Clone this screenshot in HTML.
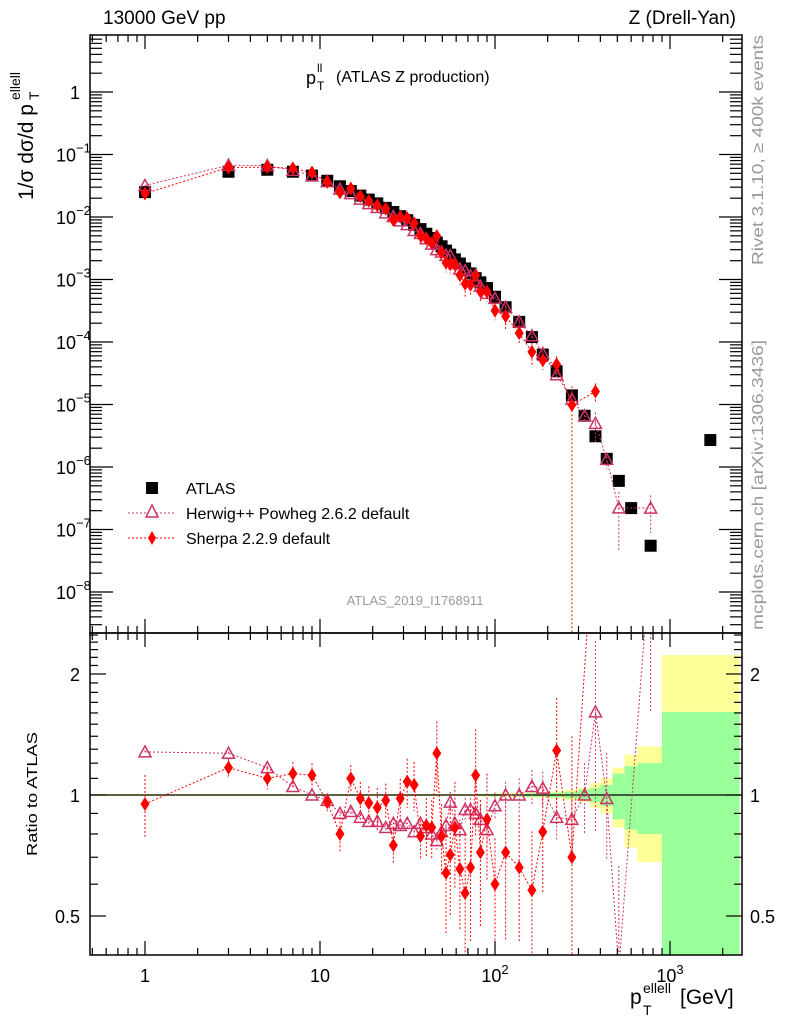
<!DOCTYPE html>
<html><head><meta charset="utf-8"><style>
body{margin:0;background:#fff;}
svg{display:block;font-family:"Liberation Sans",sans-serif;}
</style></head><body>
<svg id="chart" width="786" height="1024" viewBox="0 0 786 1024" xmlns="http://www.w3.org/2000/svg">
<rect width="786" height="1024" fill="#fff"/>
<g id="bands"></g>
<g id="grid"></g>
<g id="series"></g>
<rect x="90" y="35" width="652" height="598" fill="none" stroke="#000" stroke-width="1.5"/>
<rect x="90" y="633" width="652" height="322" fill="none" stroke="#000" stroke-width="1.5"/>
<g id="ticks"></g>
<text x="103" y="24" font-size="19">13000 GeV pp</text>
<text x="736" y="24" font-size="19" text-anchor="end">Z (Drell-Yan)</text>
<g>
<text x="306" y="84" font-size="18">p</text>
<text x="317" y="72" font-size="12">ll</text>
<text x="317" y="90" font-size="12">T</text>
<text x="336" y="82" font-size="16">(ATLAS Z production)</text>
</g>
<text transform="translate(763,265) rotate(-90)" font-size="16" textLength="230" lengthAdjust="spacingAndGlyphs" fill="#999">Rivet 3.1.10, ≥ 400k events</text>
<text transform="translate(763,630) rotate(-90)" font-size="16" textLength="290" lengthAdjust="spacingAndGlyphs" fill="#999">mcplots.cern.ch [arXiv:1306.3436]</text>
<text x="415" y="605" font-size="13" fill="#999" text-anchor="middle">ATLAS_2019_I1768911</text>
<g transform="translate(33,200) rotate(-90)">
<text x="0" y="0" font-size="21">1/σ dσ/d p</text>
<text x="100" y="6" font-size="14">T</text>
<text x="100" y="-13" font-size="14">ellell</text>
</g>
<text transform="translate(37,856) rotate(-90)" font-size="15" textLength="124" lengthAdjust="spacingAndGlyphs">Ratio to ATLAS</text>
<g>
<text x="630" y="1004" font-size="21">p</text>
<text x="643" y="1015" font-size="14">T</text>
<text x="643" y="993" font-size="14">ellell</text>
<text x="680" y="1004" font-size="21">[GeV]</text>
</g>
<g id="legend">
<rect x="146" y="482" width="12" height="12" fill="#000"/>
<text x="186" y="494" font-size="16">ATLAS</text>
<line x1="128" y1="513" x2="176" y2="513" stroke="#cc3366" stroke-dasharray="2,2"/>
<polygon points="152,505 158,517 146,517" fill="#fff" stroke="#cc3366" stroke-width="1.5"/>
<text x="186" y="519" font-size="16">Herwig++ Powheg 2.6.2 default</text>
<line x1="128" y1="538" x2="176" y2="538" stroke="#ff0000" stroke-dasharray="2,2"/>
<polygon points="152,531 156,538 152,545 148,538" fill="#ff0000"/>
<text x="186" y="544" font-size="16">Sherpa 2.2.9 default</text>
</g>
</svg>
<script>
const centers=[1,3,5,7,9,11,13,15,17,19,21.25,23.75,26.25,28.75,31.5,34.5,37.5,40.5,43.5,46.5,49.5,52.5,55.5,59,63,67.5,72.5,77.5,82.5,90,100,115,137.5,162.5,187.5,225,275,325,375,435,510,600,775,1700];
const binEdges=[0,2,4,6,8,10,12,14,16,18,20,22.5,25,27.5,30,33,36,39,42,45,48,51,54,57,61,65,70,75,80,85,95,105,125,150,175,200,250,300,350,400,470,550,650,900,2500];
const atlasValues=[0.025,0.053,0.057,0.053,0.046,0.038,0.031,0.026,0.022,0.019,0.0165,0.014,0.012,0.0103,0.0089,0.0075,0.0064,0.0054,0.0046,0.0039,0.0034,0.0029,0.0025,0.0021,0.0018,0.0015,0.00125,0.00105,0.0009,0.00073,0.00053,0.00036,0.00021,0.00012,6.3e-5,3.4e-5,1.4e-5,6.6e-6,3.1e-6,1.35e-6,6e-7,2.2e-7,5.5e-8,2.7e-6];
const herwigOverAtlas=[1.28,1.27,1.17,1.05,1.0,0.97,0.90,0.91,0.88,0.86,0.86,0.83,0.85,0.84,0.85,0.81,0.85,0.83,0.80,0.77,0.81,0.84,0.96,0.85,0.82,0.92,0.92,0.90,0.87,0.82,0.94,1.0,1.0,1.05,1.04,0.88,0.87,1.0,1.61,0.98,0.37,null,4.0,null];
const sherpaOverAtlas=[0.95,1.17,1.10,1.13,1.12,0.96,0.80,1.10,0.98,0.955,0.93,0.97,0.75,0.98,1.08,1.06,0.79,0.84,0.83,1.27,0.79,0.64,0.71,0.83,0.655,0.57,0.66,1.12,0.72,0.87,0.60,0.72,0.66,0.58,0.81,1.29,0.70,null,5.2,null,null,null,null,null];
const herwigErr=[0.01,0.01,0.01,0.01,0.01,0.015,0.015,0.02,0.02,0.02,0.02,0.02,0.03,0.03,0.03,0.03,0.04,0.04,0.04,0.05,0.05,0.05,0.06,0.06,0.06,0.07,0.07,0.07,0.08,0.08,0.08,0.08,0.1,0.1,0.1,0.12,0.15,0.2,0.5,0.3,0.8,null,0.6,null];
const sherpaErr=[0.18,0.05,0.06,0.07,0.07,0.05,0.1,0.08,0.1,0.1,0.12,0.1,0.1,0.12,0.14,0.14,0.12,0.17,0.17,0.2,0.2,0.3,0.3,0.3,0.3,0.4,0.35,0.3,0.35,0.3,0.3,0.4,0.35,0.4,0.3,0.35,1.0,null,0.35,null,null,null,null,null];
const totErr=[0.005,0.005,0.005,0.005,0.005,0.005,0.005,0.005,0.005,0.005,0.005,0.005,0.005,0.005,0.005,0.005,0.005,0.005,0.005,0.005,0.005,0.005,0.005,0.005,0.005,0.005,0.005,0.005,0.007,0.008,0.01,0.012,0.013,0.015,0.015,0.02,0.03,0.04,0.07,0.1,0.17,0.26,0.32,1.23];
const statErr=[0.003,0.003,0.003,0.003,0.003,0.003,0.003,0.003,0.003,0.003,0.003,0.003,0.003,0.003,0.003,0.003,0.003,0.003,0.003,0.003,0.003,0.003,0.003,0.003,0.003,0.003,0.003,0.003,0.004,0.005,0.006,0.007,0.008,0.01,0.01,0.013,0.02,0.03,0.04,0.06,0.13,0.18,0.2,0.61];
const xTickLabels=["1","10","10²","10³"];
const yTickExps=[0,-1,-2,-3,-4,-5,-6,-7,-8];
const ratioTickLabels=["0.5","1","2"];

const NS="http://www.w3.org/2000/svg";
const X0=90,X1=742,MT=35,MB=633,RT=633,RB=955;
const xs=v=>145+175*Math.log10(v);
const ym=v=>92-62.5*Math.log10(v);
const yr=v=>795-402*Math.log10(v);
const clampR=y=>Math.max(RT,Math.min(RB,y));
const clampM=y=>Math.max(MT,Math.min(MB,y));
function mk(tag,attrs,parent){const e=document.createElementNS(NS,tag);for(const k in attrs)e.setAttribute(k,attrs[k]);parent.appendChild(e);return e;}
const bands=document.getElementById('bands'),ser=document.getElementById('series'),tk=document.getElementById('ticks');

for(let i=0;i<centers.length;i++){
  const xa=Math.max(X0,xs(Math.max(binEdges[i],0.3))),xb=Math.min(X1,xs(binEdges[i+1]));
  const yTop=clampR(yr(1+totErr[i])),yBot=clampR(yr(Math.max(1e-3,1-totErr[i])));
  const ry=mk('rect',{x:xa,y:yTop,width:xb-xa,height:Math.max(1,yBot-yTop),fill:'#ffff99'},bands);
  
  
  const gTop=clampR(yr(1+statErr[i])),gBot=clampR(yr(Math.max(1e-3,1-statErr[i])));
  const rg=mk('rect',{x:xa,y:gTop,width:xb-xa,height:Math.max(0.6,gBot-gTop),fill:'#99ff99'},bands);
  
  
}
const one=mk('line',{x1:X0,x2:X1,y1:yr(1),y2:yr(1),stroke:'#000','stroke-width':1.2},ser);



const defs=mk('defs',{},document.getElementById('chart'));
mk('rect',{x:X0,y:MT,width:X1-X0,height:MB-MT},mk('clipPath',{id:'cm'},defs));
mk('rect',{x:X0,y:RT,width:X1-X0,height:RB-RT},mk('clipPath',{id:'cr'},defs));

function series(ratios,errs,color,kind,name){
  const g=mk('g',{},ser);
  
  
  let pm=[],pr=[];
  for(let i=0;i<centers.length;i++){
    const r=ratios[i]; if(r==null)continue;
    const v=atlasValues[i]*r, x=xs(centers[i]);
    pm.push([x,ym(v)]); pr.push([x,yr(r)]);
    const e=errs[i]||0;
    const eb1=mk('line',{x1:x,x2:x,y1:clampM(ym(v*(1+e))),y2:e>=1?MB:clampM(ym(v*(1-e))),stroke:color,'stroke-dasharray':'2,2'},g);
    
    
    const eb2=mk('line',{x1:x,x2:x,y1:clampR(yr(r*(1+e))),y2:e>=1?RB:clampR(yr(r*(1-e))),stroke:color,'stroke-dasharray':'2,2'},g);
    
    
  }
  const pts=p=>p.map(q=>q[0]+','+q[1]).join(' ');
  const l1=mk('polyline',{points:pts(pm),fill:'none',stroke:color,'stroke-dasharray':'2,2','clip-path':'url(#cm)'},g);
  
  
  const l2=mk('polyline',{points:pts(pr),fill:'none',stroke:color,'stroke-dasharray':'2,2','clip-path':'url(#cr)'},g);
  
  
  const drawM=(x,y,clip,nm)=>{
    if(y<(clip=='cm'?MT:RT)||y>(clip=='cm'?MB:RB))return;
    let m;
    if(kind=='tri') m=mk('polygon',{points:`${x},${y-6} ${x+6},${y+5} ${x-6},${y+5}`,fill:'none',stroke:color,'stroke-width':1.5},g);
    else m=mk('polygon',{points:`${x},${y-7} ${x+4.5},${y} ${x},${y+7} ${x-4.5},${y}`,fill:color},g);
    
    
  };
  pm.forEach(p=>drawM(p[0],p[1],'cm',name+'-point'));
  pr.forEach(p=>drawM(p[0],p[1],'cr',name+'-ratio-point'));
}

for(let i=0;i<centers.length;i++){
  const s=mk('rect',{x:xs(centers[i])-6,y:ym(atlasValues[i])-6,width:12,height:12,fill:'#000'},ser);
  
  
}
series(herwigOverAtlas,herwigErr,'#cc3366','tri','herwig');
series(sherpaOverAtlas,sherpaErr,'#ff0000','dia','sherpa');

function tline(x1,y1,x2,y2,nm){const l=mk('line',{x1,y1,x2,y2,stroke:'#000','stroke-width':1.2},tk);}
for(let d=-1;d<=3;d++)for(let m=1;m<=9;m++){
  const v=m*Math.pow(10,d),x=xs(v); if(x<X0+1||x>X1-1)continue;
  const L=m==1?14:7;
  tline(x,MB,x,MB-L,'x-tick');tline(x,MT,x,MT+L,'x-tick');
  tline(x,RB,x,RB-L,'x-tick');tline(x,RT,x,RT+L,'x-tick');
}
const xlv=[1,10,100,1000];
xlv.forEach((v,i)=>{const t=mk('text',{x:xs(v),y:982,'font-size':18,'text-anchor':'middle'},tk);
  if(i<2)t.textContent=xTickLabels[i];else{t.textContent='10';const s=mk('tspan',{'font-size':13,dy:-8},t);s.textContent=xTickLabels[i].slice(2)=='²'?'2':'3';}
  });
for(let d=-9;d<=0;d++)for(let m=1;m<=9;m++){
  const y=ym(m*Math.pow(10,d)); if(y<MT+1||y>MB-1)continue;
  const L=m==1?23:12; tline(X0,y,X0+L,y,'y-tick');tline(X1,y,X1-L,y,'y-tick');
}
yTickExps.forEach(e=>{const y=ym(Math.pow(10,e));const t=mk('text',{x:e==0?80:56,y:y+7,'font-size':18,'text-anchor':e==0?'end':'start'},tk);
  if(e==0)t.textContent='1';else{t.textContent='10';const s=mk('tspan',{'font-size':13,dy:-9},t);s.textContent='−'+(-e);}
  });
const rmin=[0.4,0.6,0.7,0.8,0.9,1.1,1.2,1.3,1.4,1.5,1.6,1.7,1.8,1.9,2.1,2.2,2.3,2.4,2.5];
rmin.forEach(v=>{const y=yr(v);if(y<RT+1||y>RB-1)return;tline(X0,y,X0+8,y,'ratio-minor-tick');tline(X1,y,X1-8,y,'ratio-minor-tick');});
[0.5,1,2].forEach((v,i)=>{const y=yr(v);tline(X0,y,X0+16,y,'ratio-major-tick');tline(X1,y,X1-16,y,'ratio-major-tick');
  const a=mk('text',{x:80,y:y+7,'font-size':18,'text-anchor':'end'},tk);a.textContent=ratioTickLabels[i];
  
  const b=mk('text',{x:750,y:y+7,'font-size':18},tk);b.textContent=ratioTickLabels[i];
  });
</script>
</body></html>
